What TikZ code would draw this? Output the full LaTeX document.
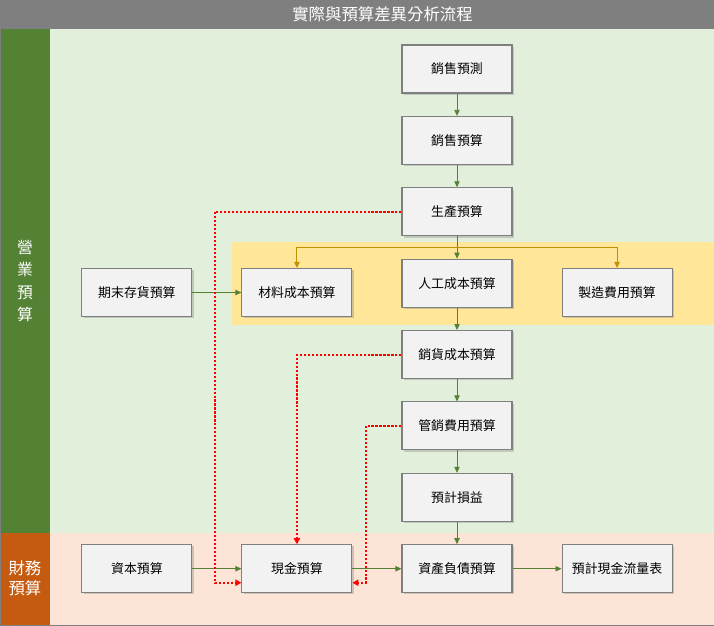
\documentclass[tikz,border=0pt]{standalone}
\usepackage{fontspec}
\usepackage{xcolor}
\usepackage{tikz}
\usetikzlibrary{arrows.meta, positioning, shadows, calc}
\newfontfamily\cjk{Noto Sans CJK TC}
\definecolor{boxfill}{RGB}{242,242,242}
\definecolor{boxline}{RGB}{127,127,127}
\definecolor{headgray}{RGB}{127,127,127}
\definecolor{opgreen}{RGB}{84,130,53}
\definecolor{finorange}{RGB}{197,90,17}
\definecolor{opback}{RGB}{226,239,218}
\definecolor{finback}{RGB}{252,228,214}
\definecolor{costband}{RGB}{255,230,153}
\definecolor{flowgreen}{RGB}{83,129,53}
\definecolor{costgold}{RGB}{191,144,0}

\begin{document}
\begin{tikzpicture}[
  node distance=0.67cm and 1.47cm,
  box/.style={rectangle, draw=boxline, line width=0.9pt, fill=boxfill, minimum width=3.3cm, minimum height=1.44cm, align=center, font=\cjk\fontsize{11}{13}\selectfont, drop shadow={shadow xshift=1.5pt, shadow yshift=-1.5pt, opacity=0.35}},
  lane/.style={text=white, align=center, font=\cjk\fontsize{13.5}{19.2}\selectfont},
  arrow/.style={-{Triangle[length=1.8mm, width=1.6mm]}, line width=0.7pt, flowgreen},
  costsplit/.style={-{Triangle[length=1.8mm, width=1.6mm]}, line width=0.8pt, costgold},
  cashlink/.style={-{Triangle[length=1.8mm, width=1.9mm]}, line width=1.8pt, red, dash pattern=on 1.8pt off 1.6pt},
]
\useasboundingbox (0,0) rectangle (21.42,-18.75);
\fill[headgray] (0,0) rectangle (21.42,-0.87);
\fill[opback] (1.5,-0.87) rectangle (21.42,-15.99);
\fill[finback] (1.5,-15.99) rectangle (21.42,-18.75);
\fill[opgreen] (0,-0.87) rectangle (1.5,-15.99);
\fill[finorange] (0,-15.99) rectangle (1.5,-18.75);
\fill[costband] (6.96,-7.26) rectangle (21.42,-9.75);
\draw[boxline, line width=0.6pt] (0,0) rectangle (21.42,-18.75);
\node[text=white, font=\cjk\fontsize{14}{16}\selectfont] (title) at (11.475,-0.43) {實際與預算差異分析流程};
\node[lane] (ops) at (0.75,-8.43) {營\\業\\預\\算};
\node[lane, font=\cjk\fontsize{14}{17}\selectfont] (fin) at (0.75,-17.34) {財務\\預算};

\node[box] (fc) at (13.71,-2.07) {銷售預測};
\node[box, below=of fc] (sb) {銷售預算};
\node[box, below=of sb] (pb) {生產預算};
\node[box, below=of pb] (lb) {人工成本預算};
\node[box, left=of lb, yshift=-0.28cm] (mb) {材料成本預算};
\node[box, right=of lb, yshift=-0.28cm] (ob) {製造費用預算};
\node[box, left=of mb] (ib) {期末存貨預算};
\node[box, below=of lb] (cg) {銷貨成本預算};
\node[box, below=of cg] (sg) {管銷費用預算};
\node[box, below=of sg] (pl) {預計損益};
\node[box, below=of pl] (bs) {資產負債預算};
\node[box, left=of bs] (ca) {現金預算};
\node[box, left=of ca] (cb) {資本預算};
\node[box, right=of bs] (cf) {預計現金流量表};
\coordinate (fork) at ($(pb.south)!0.5!(lb.north)$);

\draw[arrow] (fc) -- (sb); \draw[arrow] (sb) -- (pb);
\draw[arrow] (pb) -- (lb); \draw[arrow] (lb) -- (cg);
\draw[arrow] (cg) -- (sg); \draw[arrow] (sg) -- (pl);
\draw[arrow] (pl) -- (bs); \draw[arrow] (ib) -- (mb);
\draw[arrow] (cb) -- (ca); \draw[arrow] (ca) -- (bs);
\draw[arrow] (bs) -- (cf);
\draw[costsplit] (fork) -| (mb.north);
\draw[costsplit] (fork) -| (ob.north);
\draw[cashlink] (pb.west) -| ([xshift=-0.8cm, yshift=-0.42cm]ca.west) -- ([yshift=-0.42cm]ca.west);
\draw[cashlink] (cg.west) -| (ca.north);
\draw[cashlink] (sg.west) -| ([xshift=0.4cm, yshift=-0.42cm]ca.east) -- ([yshift=-0.42cm]ca.east);
\end{tikzpicture}
\end{document}
